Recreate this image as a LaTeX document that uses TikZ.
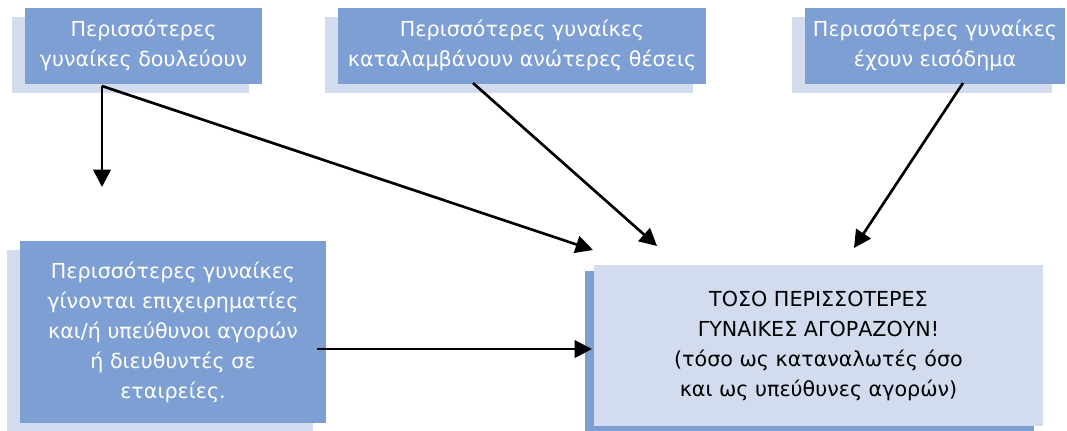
\documentclass[tikz,border=0pt]{standalone}
\usepackage{fontspec}
\setmainfont{DejaVu Sans}
\usetikzlibrary{arrows.meta,shadows}

\definecolor{boxblue}{RGB}{126,159,211}
\definecolor{paleblue}{RGB}{211,220,239}

\begin{document}
\begin{tikzpicture}[x=0.75pt, y=-0.75pt]
  \tikzset{
    cause/.style={fill=boxblue, text=white, align=center, inner sep=0pt,
      font=\fontsize{15.5}{22.5}\selectfont,
      general shadow={fill=paleblue, shadow xshift=-9.75pt, shadow yshift=-7pt}},
    effect/.style={fill=paleblue, text=black, align=center, inner sep=0pt,
      font=\fontsize{15.5}{22.5}\selectfont,
      general shadow={fill=boxblue, shadow xshift=-7pt, shadow yshift=-4.5pt}},
    flow/.style={-{Triangle[length=13pt, width=13pt]}, line width=2pt}
  }
  \useasboundingbox (0,0) rectangle (1067,430);

  % top row
  \node[cause, minimum width=177.75pt, minimum height=57pt] (work) at (143.5,45.5)
    {Περισσότερες\\γυναίκες δουλεύουν};
  \node[cause, minimum width=276pt, minimum height=57pt] (posts) at (522,45.5)
    {Περισσότερες γυναίκες\\καταλαμβάνουν ανώτερες θέσεις};
  \node[cause, minimum width=195pt, minimum height=57pt] (income) at (935,45.5)
    {Περισσότερες γυναίκες\\έχουν εισόδημα};

  % bottom row
  \node[cause, minimum width=229.5pt, minimum height=136.5pt] (managers) at (173,332)
    {Περισσότερες γυναίκες\\γίνονται επιχειρηματίες\\και/ή υπεύθυνοι αγορών\\ή διευθυντές σε\\εταιρείες.};
  \node[effect, minimum width=336.75pt, minimum height=120.75pt] (buy) at (818.5,345.5)
    {ΤΟΣΟ ΠΕΡΙΣΣΟΤΕΡΕΣ\\ΓΥΝΑΙΚΕΣ ΑΓΟΡΑΖΟΥΝ!\\(τόσο ως καταναλωτές όσο\\και ως υπεύθυνες αγορών)};

  % arrow ends
  \coordinate (workfoot) at (102,86);
  \coordinate (down) at (102,187);
  \coordinate (postsfoot) at (473,83);
  \coordinate (incomefoot) at (963,83);
  \coordinate (mgrside) at (317,349);
  \coordinate (hitA) at (593,250);
  \coordinate (hitB) at (657,246);
  \coordinate (hitC) at (854,248);
  \coordinate (hitD) at (592,349);

  \draw[flow] (workfoot) -- (down);
  \draw[flow] (workfoot) -- (hitA);
  \draw[flow] (postsfoot) -- (hitB);
  \draw[flow] (incomefoot) -- (hitC);
  \draw[flow] (mgrside) -- (hitD);
\end{tikzpicture}
\end{document}
